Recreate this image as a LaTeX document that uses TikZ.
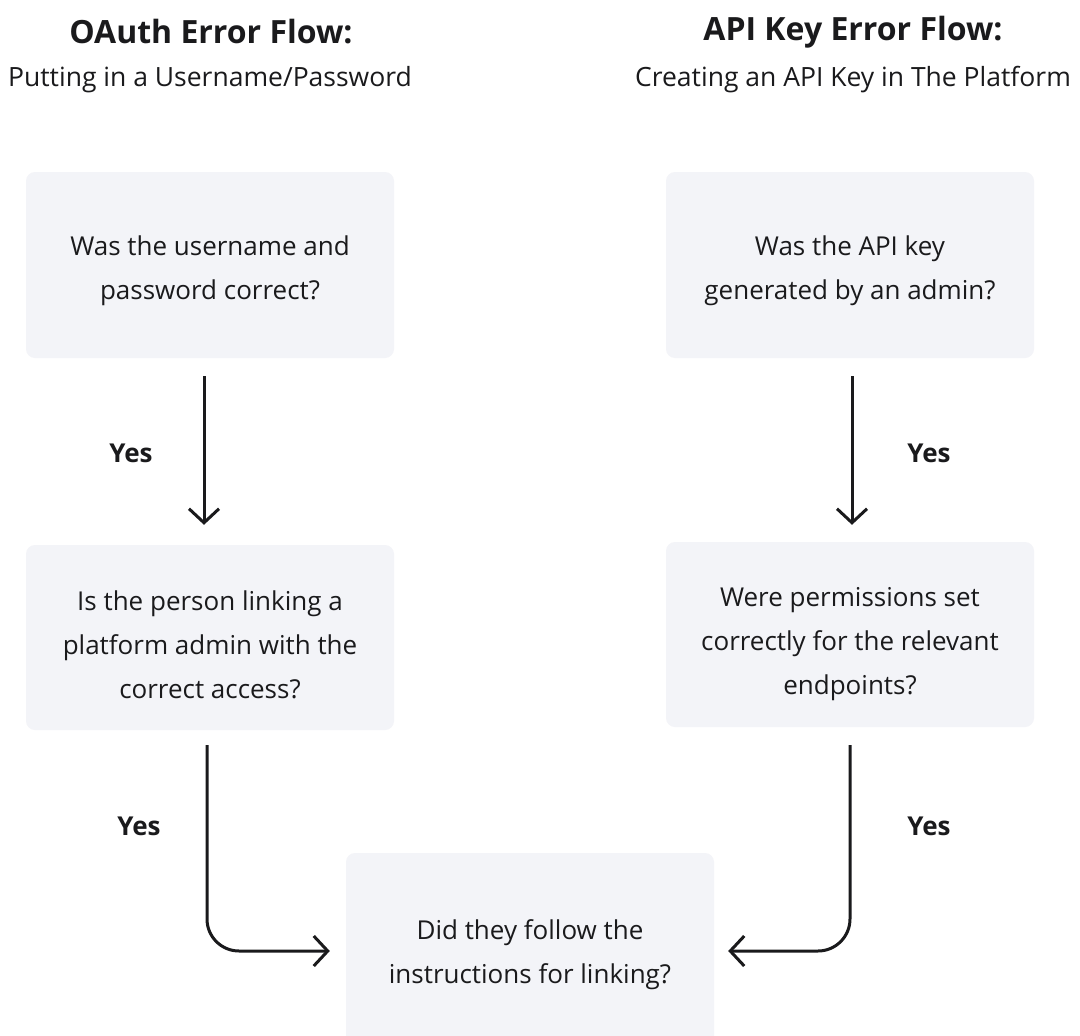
\documentclass[tikz,border=0pt]{standalone}
\usepackage{fontspec}
\setmainfont{Open Sans}
\usetikzlibrary{arrows.meta,calc}
\definecolor{boxfill}{HTML}{F3F4F8}
\definecolor{ink}{HTML}{1A1A1C}
\begin{document}
\begin{tikzpicture}[x=1pt,y=-1pt,
  qbox/.style={fill=boxfill, rounded corners=9pt, minimum width=368pt, inner sep=0pt},
  qtxt/.style={align=center, inner sep=0pt, font=\fontsize{26}{44}\selectfont, text=ink},
  ttl/.style={font=\fontsize{32}{36}\selectfont\bfseries, text=ink},
  sub/.style={font=\fontsize{26.5}{30}\selectfont, text=ink},
  yes/.style={font=\fontsize{26}{30}\selectfont\bfseries, text=ink},
  conn/.style={draw=ink, line width=3pt, -{Straight Barb[length=14pt,width=30pt,line width=3pt]}},
]
\useasboundingbox (0,0) rectangle (1080,1036);
\fill[white] (0,0) rectangle (1080,1036);

\node[ttl] (t1) at (211,32) {OAuth Error Flow:};
\node[sub] (s1) at (210,80) {Putting in a Username/Password};
\node[ttl] (t2) at (853,32) {API Key Error Flow:};
\node[sub] (s2) at (853,80) {Creating an API Key in The Platform};

\node[qbox, minimum height=186pt] (b1) at (210,265) {};
\node[qbox, minimum height=186pt] (b2) at (850,265) {};
\node[qbox, minimum height=185pt] (b3) at (210,637.5) {};
\node[qbox, minimum height=185pt] (b4) at (850,634.5) {};
\node[qbox, minimum height=196pt] (b5) at (530,951) {};

\node[qtxt] (b1t) at ($(b1.center)+(0,5.5)$) {Was the username and\\password correct?};
\node[qtxt] (b2t) at ($(b2.center)+(0,5.5)$) {Was the API key\\generated by an admin?};
\node[qtxt] (b3t) at ($(b3.center)+(0,7.5)$) {Is the person linking a\\platform admin with the\\correct access?};
\node[qtxt] (b4t) at ($(b4.center)+(0,9.5)$) {Were permissions set\\correctly for the relevant\\endpoints?};
\node[qtxt] (b5t) at ($(b5.center)+(0,3.5)$) {Did they follow the\\instructions for linking?};

\draw[conn] ($(b1.south)+(-6,18)$) -- ($(b3.north)+(-6,-20)$);
\draw[conn] ($(b2.south)+(2,18)$) -- ($(b4.north)+(2,-17)$);
\draw[conn, rounded corners=32pt] ($(b3.south)+(-3,15)$) |- ($(b5.west)+(-16,0)$);
\draw[conn, rounded corners=32pt] ($(b4.south)+(0,18)$) |- ($(b5.east)+(14,0)$);

\node[yes] (y1) at (131,453) {Yes};
\node[yes] (y2) at (929,453) {Yes};
\node[yes] (y3) at (139,826) {Yes};
\node[yes] (y4) at (929,826) {Yes};
\end{tikzpicture}
\end{document}
